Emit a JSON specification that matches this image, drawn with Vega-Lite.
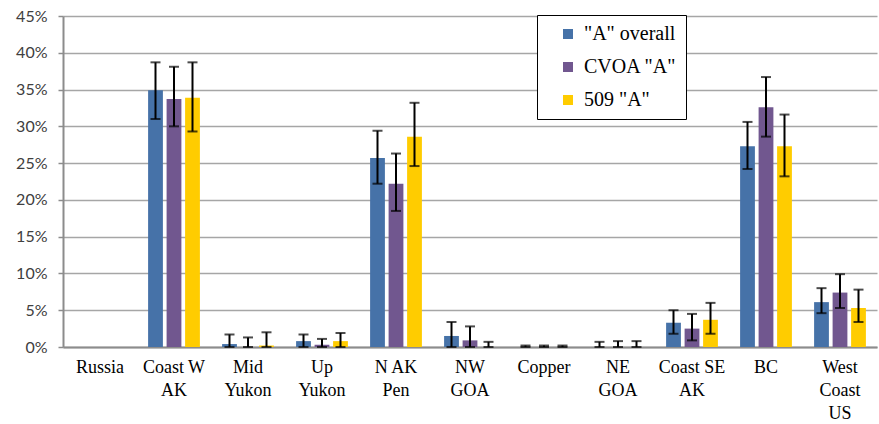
{
  "$schema": "https://vega.github.io/schema/vega-lite/v6.json",
  "autosize": "none",
  "width": 814,
  "height": 331,
  "padding": {"left": 63, "top": 16, "right": 2, "bottom": 77},
  "background": "white",
  "config": {
    "view": {"stroke": null},
    "axisY": {
      "labelOverlap": false,
      "labelFont": "Lato", "labelFontSize": 16, "labelColor": "#404040",
      "labelPadding": 11,
      "gridColor": "#a6a6a6", "gridWidth": 1.5,
      "domainColor": "#8c8c8c", "domainWidth": 2,
      "tickColor": "#8c8c8c", "tickSize": 5, "tickWidth": 1.5
    }
  },
  "data": {"values": [
    {"region": "Russia", "series": "\"A\" overall", "value": 0, "lo": null, "hi": null},
    {"region": "Russia", "series": "CVOA \"A\"", "value": 0, "lo": null, "hi": null},
    {"region": "Russia", "series": "509 \"A\"", "value": 0, "lo": null, "hi": null},
    {"region": "Coast W\nAK", "series": "\"A\" overall", "value": 0.349, "lo": 0.310, "hi": 0.387},
    {"region": "Coast W\nAK", "series": "CVOA \"A\"", "value": 0.337, "lo": 0.300, "hi": 0.381},
    {"region": "Coast W\nAK", "series": "509 \"A\"", "value": 0.339, "lo": 0.293, "hi": 0.387},
    {"region": "Mid\nYukon", "series": "\"A\" overall", "value": 0.004, "lo": 0.0, "hi": 0.017},
    {"region": "Mid\nYukon", "series": "CVOA \"A\"", "value": 0.0, "lo": 0.0, "hi": 0.013},
    {"region": "Mid\nYukon", "series": "509 \"A\"", "value": 0.002, "lo": 0.0, "hi": 0.020},
    {"region": "Up\nYukon", "series": "\"A\" overall", "value": 0.008, "lo": 0.0, "hi": 0.017},
    {"region": "Up\nYukon", "series": "CVOA \"A\"", "value": 0.003, "lo": 0.0, "hi": 0.011},
    {"region": "Up\nYukon", "series": "509 \"A\"", "value": 0.008, "lo": 0.0, "hi": 0.019},
    {"region": "N AK\nPen", "series": "\"A\" overall", "value": 0.257, "lo": 0.222, "hi": 0.294},
    {"region": "N AK\nPen", "series": "CVOA \"A\"", "value": 0.222, "lo": 0.185, "hi": 0.263},
    {"region": "N AK\nPen", "series": "509 \"A\"", "value": 0.286, "lo": 0.246, "hi": 0.332},
    {"region": "NW\nGOA", "series": "\"A\" overall", "value": 0.015, "lo": 0.0, "hi": 0.034},
    {"region": "NW\nGOA", "series": "CVOA \"A\"", "value": 0.009, "lo": 0.0, "hi": 0.028},
    {"region": "NW\nGOA", "series": "509 \"A\"", "value": 0.0, "lo": 0.0, "hi": 0.007},
    {"region": "Copper", "series": "\"A\" overall", "value": 0.0, "lo": 0.0, "hi": 0.002},
    {"region": "Copper", "series": "CVOA \"A\"", "value": 0.0, "lo": 0.0, "hi": 0.002},
    {"region": "Copper", "series": "509 \"A\"", "value": 0.0, "lo": 0.0, "hi": 0.002},
    {"region": "NE\nGOA", "series": "\"A\" overall", "value": 0.0, "lo": 0.0, "hi": 0.007},
    {"region": "NE\nGOA", "series": "CVOA \"A\"", "value": 0.0, "lo": 0.0, "hi": 0.008},
    {"region": "NE\nGOA", "series": "509 \"A\"", "value": 0.0, "lo": 0.0, "hi": 0.008},
    {"region": "Coast SE\nAK", "series": "\"A\" overall", "value": 0.033, "lo": 0.018, "hi": 0.050},
    {"region": "Coast SE\nAK", "series": "CVOA \"A\"", "value": 0.025, "lo": 0.009, "hi": 0.045},
    {"region": "Coast SE\nAK", "series": "509 \"A\"", "value": 0.037, "lo": 0.018, "hi": 0.060},
    {"region": "BC", "series": "\"A\" overall", "value": 0.273, "lo": 0.242, "hi": 0.306},
    {"region": "BC", "series": "CVOA \"A\"", "value": 0.326, "lo": 0.286, "hi": 0.367},
    {"region": "BC", "series": "509 \"A\"", "value": 0.273, "lo": 0.232, "hi": 0.316},
    {"region": "West\nCoast\nUS", "series": "\"A\" overall", "value": 0.061, "lo": 0.046, "hi": 0.080},
    {"region": "West\nCoast\nUS", "series": "CVOA \"A\"", "value": 0.074, "lo": 0.053, "hi": 0.099},
    {"region": "West\nCoast\nUS", "series": "509 \"A\"", "value": 0.053, "lo": 0.034, "hi": 0.078}
  ]},
  "encoding": {
    "x": {
      "field": "region", "type": "nominal", "sort": null,
      "scale": {"paddingInner": 0.25, "paddingOuter": 0.125},
      "axis": {
        "title": null, "labelAngle": 0, "ticks": false,
        "labelExpr": "split(datum.label, '\\n')",
        "labelFont": "Liberation Serif", "labelFontSize": 18, "labelColor": "#000000",
        "labelLineHeight": 23, "labelPadding": 11, "labelBaseline": "top",
        "domainColor": "#8c8c8c", "domainWidth": 2
      }
    },
    "xOffset": {
      "field": "series", "type": "nominal",
      "sort": ["\"A\" overall", "CVOA \"A\"", "509 \"A\""],
      "scale": {"paddingInner": 0.2, "paddingOuter": 0.1}
    }
  },
  "layer": [
    {
      "mark": {"type": "bar"},
      "encoding": {
        "y": {
          "field": "value", "type": "quantitative",
          "scale": {"domain": [0, 0.45], "nice": false},
          "axis": {"title": null, "format": ".0%", "values": [0, 0.05, 0.1, 0.15, 0.2, 0.25, 0.3, 0.35, 0.4, 0.45]}
        },
        "color": {
          "field": "series", "type": "nominal",
          "scale": {"domain": ["\"A\" overall", "CVOA \"A\"", "509 \"A\""], "range": ["#4672a8", "#71578f", "#ffcc00"]},
          "legend": {
            "title": null, "orient": "none", "legendX": 474, "legendY": -1,
            "symbolType": "square", "symbolSize": 100, "symbolStrokeWidth": 0,
            "symbolOffset": 12,
            "labelFont": "Liberation Serif", "labelFontSize": 20, "labelColor": "#000000",
            "rowPadding": 13, "padding": 9, "labelOffset": 6,
            "strokeColor": "#000000", "fillColor": "#ffffff"
          }
        }
      }
    },
    {
      "mark": {"type": "rule", "color": "#000000", "strokeWidth": 2},
      "encoding": {
        "y": {"field": "lo", "type": "quantitative", "axis": {"title": null, "format": ".0%", "values": [0, 0.05, 0.1, 0.15, 0.2, 0.25, 0.3, 0.35, 0.4, 0.45]}},
        "y2": {"field": "hi"}
      }
    },
    {
      "mark": {"type": "tick", "color": "#000000", "thickness": 2, "size": 10},
      "encoding": {"y": {"field": "lo", "type": "quantitative", "axis": {"title": null, "format": ".0%", "values": [0, 0.05, 0.1, 0.15, 0.2, 0.25, 0.3, 0.35, 0.4, 0.45]}}}
    },
    {
      "mark": {"type": "tick", "color": "#000000", "thickness": 2, "size": 10},
      "encoding": {"y": {"field": "hi", "type": "quantitative", "axis": {"title": null, "format": ".0%", "values": [0, 0.05, 0.1, 0.15, 0.2, 0.25, 0.3, 0.35, 0.4, 0.45]}}}
    }
  ]
}
